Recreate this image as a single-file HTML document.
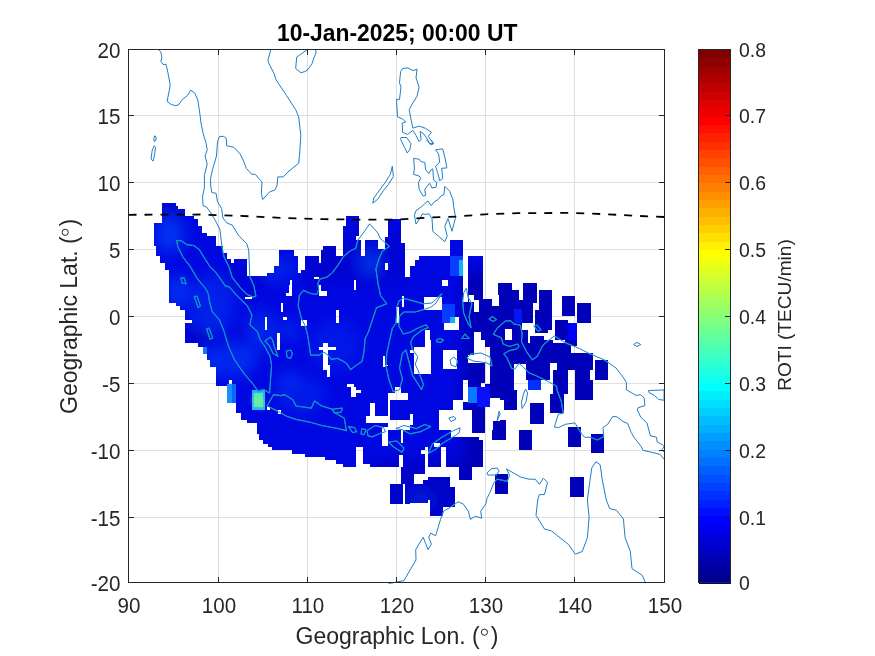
<!DOCTYPE html>
<html><head><meta charset="utf-8"><style>
html,body{margin:0;padding:0;width:875px;height:656px;overflow:hidden;background:#fff}
svg text{font-family:"Liberation Sans",sans-serif}
</style></head><body>
<svg width="875" height="656" viewBox="0 0 875 656" style="position:absolute;left:0;top:0">
<line x1="218.5" y1="49.5" x2="218.5" y2="582.5" stroke="#dfdfdf" stroke-width="1"/>
<line x1="307.5" y1="49.5" x2="307.5" y2="582.5" stroke="#dfdfdf" stroke-width="1"/>
<line x1="396.5" y1="49.5" x2="396.5" y2="582.5" stroke="#dfdfdf" stroke-width="1"/>
<line x1="485.5" y1="49.5" x2="485.5" y2="582.5" stroke="#dfdfdf" stroke-width="1"/>
<line x1="574.5" y1="49.5" x2="574.5" y2="582.5" stroke="#dfdfdf" stroke-width="1"/>
<line x1="128.5" y1="517.5" x2="664.5" y2="517.5" stroke="#dfdfdf" stroke-width="1"/>
<line x1="128.5" y1="450.5" x2="664.5" y2="450.5" stroke="#dfdfdf" stroke-width="1"/>
<line x1="128.5" y1="383.5" x2="664.5" y2="383.5" stroke="#dfdfdf" stroke-width="1"/>
<line x1="128.5" y1="316.5" x2="664.5" y2="316.5" stroke="#dfdfdf" stroke-width="1"/>
<line x1="128.5" y1="249.5" x2="664.5" y2="249.5" stroke="#dfdfdf" stroke-width="1"/>
<line x1="128.5" y1="182.5" x2="664.5" y2="182.5" stroke="#dfdfdf" stroke-width="1"/>
<line x1="128.5" y1="115.5" x2="664.5" y2="115.5" stroke="#dfdfdf" stroke-width="1"/>
<defs><clipPath id="cm"><path d="M0,0 H410 V455 H0 Z M0,455 H370 V656 H0 Z"/></clipPath><clipPath id="c0"><rect x="410.0" y="195.0" width="270.0" height="55.0"/></clipPath><clipPath id="c1"><rect x="410.0" y="250.0" width="90.0" height="90.0"/></clipPath><clipPath id="c2"><rect x="500.0" y="250.0" width="90.0" height="90.0"/></clipPath><clipPath id="c3"><rect x="410.0" y="340.0" width="90.0" height="90.0"/></clipPath><clipPath id="c4"><rect x="500.0" y="340.0" width="90.0" height="90.0"/></clipPath><clipPath id="c5"><rect x="590.0" y="250.0" width="90.0" height="120.0"/></clipPath><clipPath id="c6"><rect x="590.0" y="370.0" width="90.0" height="150.0"/></clipPath><clipPath id="c7"><rect x="410.0" y="430.0" width="90.0" height="90.0"/></clipPath><clipPath id="c8"><rect x="500.0" y="430.0" width="90.0" height="90.0"/></clipPath><clipPath id="c9"><rect x="370.0" y="455.0" width="40.0" height="65.0"/></clipPath><mask id="bm" maskUnits="userSpaceOnUse" x="0" y="0" width="875" height="656"><g shape-rendering="crispEdges"><g clip-path="url(#cm)">
<path d="M162.4,202.8 L175.5,202.8 L175.5,206.0 L177.9,206.0 L177.9,209.1 L184.8,209.1 L184.8,215.9 L193.7,215.9 L193.7,219.4 L197.8,219.4 L197.8,226.3 L202.3,226.3 L202.3,232.7 L206.7,232.7 L206.7,236.2 L216.1,236.2 L216.1,246.0 L222.5,246.0 L222.5,253.3 L227.3,253.3 L227.3,259.2 L230.7,259.2 L230.7,262.6 L233.5,262.6 L233.5,259.2 L247.2,259.2 L247.2,275.9 L267.0,275.9 L267.0,273.2 L274.3,273.2 L274.3,266.3 L278.7,266.3 L278.7,249.9 L293.8,249.9 L293.8,256.0 L297.9,256.0 L297.9,273.2 L300.9,273.2 L300.9,269.8 L305.1,269.8 L305.1,256.0 L318.5,256.0 L318.5,262.9 L321.0,262.9 L321.0,249.9 L323.3,249.9 L323.3,246.0 L336.1,246.0 L336.1,256.0 L343.2,256.0 L343.2,226.3 L345.7,226.3 L345.7,216.3 L358.7,216.3 L358.7,236.2 L356.2,236.2 L356.2,239.6 L361.0,239.6 L361.0,256.0 L365.1,256.0 L365.1,239.7 L378.3,239.7 L378.3,249.3 L385.2,249.3 L385.2,236.5 L387.9,236.5 L387.9,219.4 L400.8,219.4 L400.8,243.0 L405.2,243.0 L405.2,276.6 L409.7,276.6 L409.7,266.3 L414.5,266.3 L414.5,259.5 L419.0,259.5 L419.0,256.3 L448.1,256.3 L448.1,253.3 L450.2,253.3 L450.2,239.6 L463.2,239.6 L463.2,276.0 L468.0,276.0 L468.0,256.3 L481.0,256.3 L481.0,269.8 L483.1,269.8 L483.1,350.0 L410.0,350.0 L410.0,455.0 L380.0,455.0 L380.0,466.8 L376.6,466.8 L376.6,463.6 L362.9,463.6 L362.9,447.1 L356.0,447.1 L356.0,466.8 L343.0,466.8 L343.0,463.6 L336.1,463.6 L336.1,460.2 L325.2,460.2 L325.2,456.7 L305.3,456.7 L305.3,453.6 L292.2,453.6 L292.2,450.3 L271.7,450.3 L271.7,447.1 L267.5,447.1 L267.5,443.7 L262.7,443.7 L262.7,439.8 L258.6,439.8 L258.6,433.6 L256.5,433.6 L256.5,423.3 L246.9,423.3 L246.9,419.9 L240.8,419.9 L240.8,413.0 L236.0,413.0 L236.0,403.1 L227.3,403.1 L227.3,386.3 L216.1,386.3 L216.1,375.0 L216.1,366.6 L209.5,366.6 L209.5,359.8 L207.4,359.8 L207.4,353.6 L202.6,353.6 L202.6,346.7 L198.2,346.7 L198.2,343.3 L184.8,343.3 L184.8,309.7 L180.4,309.7 L180.4,306.3 L175.9,306.3 L175.9,302.8 L169.4,302.8 L169.4,285.0 L169.4,269.8 L164.9,269.8 L164.9,262.9 L160.1,262.9 L160.1,256.0 L156.0,256.0 L156.0,245.8 L153.5,245.8 L153.5,223.1 L162.4,223.1 L162.4,202.8 Z" fill="#fff"/>
<rect x="385.20" y="262.60" width="2.70" height="7.40" fill="#000"/>
<rect x="441.20" y="280.00" width="6.90" height="5.00" fill="#000"/>
<rect x="314.40" y="276.60" width="4.10" height="2.80" fill="#000"/>
<rect x="289.70" y="280.00" width="2.00" height="5.00" fill="#000"/>
<rect x="354.20" y="280.00" width="2.00" height="5.00" fill="#000"/>
<rect x="184.80" y="320.00" width="6.80" height="3.10" fill="#000"/>
<rect x="245.10" y="296.70" width="6.90" height="2.70" fill="#000"/>
<rect x="289.40" y="285.00" width="2.30" height="11.00" fill="#000"/>
<rect x="285.60" y="293.20" width="6.10" height="2.80" fill="#000"/>
<rect x="318.50" y="285.00" width="2.70" height="5.50" fill="#000"/>
<rect x="318.50" y="290.50" width="8.90" height="5.50" fill="#000"/>
<rect x="354.20" y="285.00" width="2.00" height="4.80" fill="#000"/>
<rect x="280.80" y="302.80" width="2.00" height="9.60" fill="#000"/>
<rect x="282.80" y="316.60" width="4.20" height="3.40" fill="#000"/>
<rect x="265.00" y="316.60" width="2.10" height="13.00" fill="#000"/>
<rect x="300.90" y="320.00" width="5.90" height="6.20" fill="#000"/>
<rect x="336.30" y="309.70" width="2.80" height="13.00" fill="#000"/>
<rect x="276.70" y="333.00" width="3.40" height="16.50" fill="#000"/>
<rect x="318.50" y="346.70" width="17.80" height="3.50" fill="#000"/>
<rect x="323.30" y="343.30" width="4.80" height="26.70" fill="#000"/>
<rect x="327.40" y="370.00" width="2.80" height="5.00" fill="#000"/>
<rect x="383.00" y="356.30" width="2.00" height="11.00" fill="#000"/>
<rect x="441.20" y="279.80" width="6.20" height="6.90" fill="#000"/>
<rect x="423.40" y="296.30" width="19.20" height="13.00" fill="#000"/>
<rect x="401.50" y="296.30" width="2.00" height="10.20" fill="#000"/>
<rect x="396.00" y="306.50" width="2.70" height="16.50" fill="#000"/>
<rect x="461.10" y="275.00" width="6.20" height="12.30" fill="#000"/>
<rect x="461.80" y="287.30" width="12.40" height="15.10" fill="#000"/>
<rect x="474.20" y="299.70" width="5.50" height="13.70" fill="#000"/>
<rect x="483.80" y="275.00" width="15.10" height="31.50" fill="#000"/>
<rect x="493.40" y="306.50" width="5.50" height="9.70" fill="#000"/>
<rect x="443.30" y="325.80" width="17.80" height="4.10" fill="#000"/>
<rect x="454.30" y="316.80" width="4.80" height="9.00" fill="#000"/>
<rect x="426.20" y="329.90" width="3.40" height="16.40" fill="#000"/>
<rect x="410.40" y="349.80" width="15.80" height="15.20" fill="#000"/>
<rect x="420.70" y="346.30" width="5.50" height="3.50" fill="#000"/>
<rect x="443.30" y="351.80" width="6.90" height="13.20" fill="#000"/>
<rect x="474.20" y="332.60" width="11.60" height="32.40" fill="#000"/>
<rect x="485.80" y="350.40" width="13.10" height="14.60" fill="#000"/>
<rect x="229.10" y="380.10" width="2.70" height="3.40" fill="#000"/>
<rect x="266.80" y="406.80" width="2.80" height="3.50" fill="#000"/>
<rect x="277.80" y="409.60" width="3.40" height="4.10" fill="#000"/>
<rect x="323.30" y="365.00" width="6.20" height="4.80" fill="#000"/>
<rect x="327.40" y="369.80" width="2.10" height="6.90" fill="#000"/>
<rect x="383.00" y="365.00" width="4.80" height="1.40" fill="#000"/>
<rect x="414.50" y="365.00" width="5.50" height="7.50" fill="#000"/>
<rect x="347.30" y="383.50" width="6.90" height="3.50" fill="#000"/>
<rect x="351.40" y="387.00" width="4.80" height="9.60" fill="#000"/>
<rect x="354.20" y="389.70" width="6.80" height="3.40" fill="#000"/>
<rect x="387.80" y="393.10" width="19.90" height="6.90" fill="#000"/>
<rect x="394.70" y="386.90" width="6.10" height="6.20" fill="#000"/>
<rect x="370.00" y="403.40" width="4.80" height="16.50" fill="#000"/>
<rect x="365.80" y="416.40" width="24.00" height="6.60" fill="#000"/>
<rect x="388.20" y="420.00" width="7.80" height="9.90" fill="#000"/>
<rect x="387.80" y="393.10" width="2.00" height="26.80" fill="#000"/>
<rect x="396.00" y="419.90" width="18.50" height="9.60" fill="#000"/>
<rect x="411.80" y="413.00" width="2.70" height="16.50" fill="#000"/>
<rect x="382.30" y="426.70" width="5.50" height="19.20" fill="#000"/>
<rect x="400.80" y="429.50" width="2.10" height="13.70" fill="#000"/>
<rect x="356.20" y="447.30" width="6.20" height="7.70" fill="#000"/>
</g>
<g clip-path="url(#c0)">
<rect x="410.00" y="195.00" width="270.00" height="55.00" fill="#000"/>
<rect x="450.20" y="239.60" width="13.00" height="10.40" fill="#fff"/>
</g>
<g clip-path="url(#c1)">
<rect x="410.00" y="250.00" width="90.00" height="90.00" fill="#fff"/>
<rect x="492.32" y="295.27" width="6.72" height="10.98" fill="#000"/>
<rect x="410.00" y="250.00" width="39.79" height="6.17" fill="#000"/>
<rect x="410.00" y="256.17" width="8.92" height="3.43" fill="#000"/>
<rect x="410.00" y="259.60" width="4.80" height="6.86" fill="#000"/>
<rect x="462.82" y="250.00" width="5.49" height="52.13" fill="#000"/>
<rect x="468.31" y="250.00" width="31.69" height="6.17" fill="#000"/>
<rect x="483.40" y="256.17" width="15.09" height="43.22" fill="#000"/>
<rect x="498.49" y="250.00" width="1.51" height="32.93" fill="#000"/>
<rect x="441.55" y="279.50" width="6.17" height="6.86" fill="#000"/>
<rect x="423.72" y="296.65" width="18.52" height="13.03" fill="#000"/>
<rect x="468.99" y="295.27" width="5.49" height="6.86" fill="#000"/>
<rect x="474.48" y="300.08" width="4.12" height="12.35" fill="#000"/>
<rect x="454.59" y="316.54" width="4.12" height="6.86" fill="#000"/>
<rect x="443.61" y="323.40" width="15.78" height="6.17" fill="#000"/>
<rect x="425.09" y="329.57" width="4.80" height="10.43" fill="#000"/>
<rect x="474.48" y="332.32" width="6.86" height="7.68" fill="#000"/>
<rect x="449.79" y="256.17" width="13.03" height="19.89" fill="#fff"/>
<rect x="441.55" y="303.51" width="13.72" height="19.21" fill="#fff"/>
<rect x="458.70" y="259.60" width="4.12" height="16.46" fill="#fff"/>
<rect x="449.79" y="316.54" width="4.80" height="6.17" fill="#fff"/>
</g>
<g clip-path="url(#c2)">
<rect x="500.00" y="250.00" width="90.00" height="90.00" fill="#000"/>
<rect x="500.00" y="282.93" width="12.35" height="57.07" fill="#fff"/>
<rect x="512.35" y="289.79" width="6.86" height="50.21" fill="#fff"/>
<rect x="519.21" y="300.08" width="13.72" height="22.64" fill="#fff"/>
<rect x="523.32" y="282.93" width="13.45" height="19.89" fill="#fff"/>
<rect x="512.35" y="322.71" width="9.60" height="17.29" fill="#fff"/>
<rect x="521.95" y="329.57" width="6.17" height="10.43" fill="#fff"/>
<rect x="539.10" y="289.79" width="13.31" height="20.58" fill="#fff"/>
<rect x="534.98" y="310.37" width="17.42" height="19.21" fill="#fff"/>
<rect x="534.98" y="329.57" width="13.03" height="3.43" fill="#fff"/>
<rect x="561.74" y="296.37" width="13.03" height="19.89" fill="#fff"/>
<rect x="577.10" y="303.09" width="12.90" height="19.62" fill="#fff"/>
<rect x="554.88" y="319.97" width="13.03" height="20.03" fill="#fff"/>
<rect x="530.18" y="336.43" width="13.72" height="3.57" fill="#fff"/>
<rect x="567.91" y="322.71" width="8.92" height="17.29" fill="#fff"/>
<rect x="513.72" y="308.99" width="8.23" height="13.72" fill="#fff"/>
<rect x="505.35" y="329.44" width="6.17" height="10.29" fill="#000"/>
</g>
<g clip-path="url(#c3)">
<rect x="410.00" y="340.00" width="90.00" height="90.00" fill="#fff"/>
<rect x="414.12" y="346.86" width="16.46" height="26.75" fill="#000"/>
<rect x="410.00" y="349.60" width="4.12" height="3.43" fill="#000"/>
<rect x="425.09" y="340.00" width="5.49" height="6.86" fill="#000"/>
<rect x="442.93" y="349.60" width="14.41" height="19.89" fill="#000"/>
<rect x="474.48" y="340.00" width="10.98" height="15.09" fill="#000"/>
<rect x="467.62" y="355.09" width="17.84" height="7.55" fill="#000"/>
<rect x="485.46" y="346.86" width="4.12" height="37.04" fill="#000"/>
<rect x="462.82" y="380.47" width="4.80" height="21.27" fill="#000"/>
<rect x="480.66" y="383.22" width="4.80" height="3.43" fill="#000"/>
<rect x="488.89" y="397.62" width="11.11" height="23.32" fill="#000"/>
<rect x="488.89" y="420.95" width="4.12" height="9.05" fill="#000"/>
<rect x="438.81" y="409.97" width="33.61" height="20.03" fill="#000"/>
<rect x="452.53" y="400.37" width="10.29" height="9.60" fill="#000"/>
<rect x="485.46" y="406.54" width="3.43" height="23.46" fill="#000"/>
<rect x="410.00" y="414.09" width="2.74" height="10.98" fill="#000"/>
<rect x="472.42" y="413.40" width="13.03" height="16.60" fill="#fff"/>
<rect x="493.00" y="420.95" width="7.00" height="9.05" fill="#fff"/>
<rect x="468.31" y="386.65" width="8.92" height="16.46" fill="#fff"/>
<rect x="477.23" y="386.65" width="12.35" height="19.89" fill="#fff"/>
</g>
<g clip-path="url(#c4)">
<rect x="500.00" y="340.00" width="90.00" height="90.00" fill="#000"/>
<rect x="500.00" y="340.00" width="90.00" height="20.00" fill="#fff"/>
<rect x="500.00" y="360.00" width="14.40" height="40.00" fill="#fff"/>
<rect x="503.70" y="389.90" width="13.20" height="20.10" fill="#fff"/>
<rect x="500.00" y="419.80" width="5.90" height="10.20" fill="#fff"/>
<rect x="526.20" y="360.00" width="24.00" height="19.80" fill="#fff"/>
<rect x="514.40" y="360.00" width="11.80" height="3.70" fill="#fff"/>
<rect x="528.00" y="379.80" width="13.10" height="10.10" fill="#fff"/>
<rect x="530.20" y="403.20" width="13.60" height="20.30" fill="#fff"/>
<rect x="550.20" y="393.60" width="13.90" height="19.80" fill="#fff"/>
<rect x="552.80" y="370.10" width="15.50" height="23.50" fill="#fff"/>
<rect x="550.20" y="360.00" width="39.80" height="3.20" fill="#fff"/>
<rect x="556.60" y="363.20" width="33.40" height="6.90" fill="#fff"/>
<rect x="574.70" y="360.00" width="15.30" height="40.00" fill="#fff"/>
<rect x="568.30" y="426.70" width="12.80" height="3.30" fill="#fff"/>
<rect x="528.10" y="340.00" width="2.10" height="2.70" fill="#000"/>
<rect x="552.80" y="340.00" width="11.70" height="2.70" fill="#000"/>
<rect x="576.80" y="340.00" width="13.20" height="13.00" fill="#000"/>
<rect x="571.30" y="346.20" width="5.50" height="6.80" fill="#000"/>
<rect x="528.00" y="379.80" width="13.10" height="10.10" fill="#fff"/>
</g>
<g clip-path="url(#c5)">
<rect x="590.00" y="250.00" width="90.00" height="120.00" fill="#000"/>
<rect x="590.00" y="303.30" width="1.10" height="19.20" fill="#fff"/>
<rect x="590.00" y="353.40" width="2.70" height="16.60" fill="#fff"/>
<rect x="594.80" y="360.20" width="13.00" height="9.80" fill="#fff"/>
</g>
<g clip-path="url(#c6)">
<rect x="590.00" y="370.00" width="90.00" height="150.00" fill="#000"/>
<rect x="594.80" y="370.00" width="13.00" height="9.60" fill="#fff"/>
<rect x="590.00" y="380.30" width="2.70" height="19.20" fill="#fff"/>
<rect x="590.70" y="433.80" width="13.00" height="19.20" fill="#fff"/>
</g>
<g clip-path="url(#c7)">
<rect x="410.00" y="430.00" width="90.00" height="90.00" fill="#000"/>
<rect x="410.00" y="430.00" width="15.10" height="43.90" fill="#fff"/>
<rect x="425.10" y="430.00" width="26.10" height="17.10" fill="#fff"/>
<rect x="427.80" y="447.10" width="13.10" height="19.90" fill="#fff"/>
<rect x="445.70" y="440.30" width="37.70" height="26.70" fill="#fff"/>
<rect x="451.20" y="436.90" width="28.10" height="3.40" fill="#fff"/>
<rect x="440.90" y="434.10" width="10.30" height="13.00" fill="#fff"/>
<rect x="458.70" y="459.50" width="13.00" height="20.60" fill="#fff"/>
<rect x="410.00" y="483.50" width="17.80" height="19.90" fill="#fff"/>
<rect x="423.00" y="480.10" width="26.80" height="19.90" fill="#fff"/>
<rect x="427.80" y="476.60" width="22.00" height="3.50" fill="#fff"/>
<rect x="429.90" y="500.00" width="13.00" height="16.40" fill="#fff"/>
<rect x="442.90" y="486.90" width="11.70" height="19.90" fill="#fff"/>
<rect x="495.00" y="473.90" width="5.00" height="19.90" fill="#fff"/>
<rect x="472.40" y="430.00" width="13.00" height="3.40" fill="#fff"/>
<rect x="492.30" y="430.00" width="7.70" height="9.60" fill="#fff"/>
<rect x="410.00" y="473.90" width="4.10" height="9.60" fill="#fff"/>
<rect x="434.00" y="443.00" width="5.50" height="4.10" fill="#000"/>
<rect x="421.00" y="449.90" width="6.80" height="4.10" fill="#000"/>
</g>
<g clip-path="url(#c8)">
<rect x="500.00" y="430.00" width="90.00" height="90.00" fill="#000"/>
<rect x="500.00" y="430.00" width="5.50" height="9.60" fill="#fff"/>
<rect x="519.20" y="430.00" width="13.00" height="19.90" fill="#fff"/>
<rect x="568.20" y="430.00" width="13.10" height="16.70" fill="#fff"/>
<rect x="500.00" y="473.90" width="8.00" height="19.90" fill="#fff"/>
<rect x="570.20" y="477.00" width="13.50" height="19.90" fill="#fff"/>
</g>
<g clip-path="url(#c9)">
<rect x="370.00" y="455.00" width="40.00" height="65.00" fill="#000"/>
<rect x="370.00" y="455.00" width="28.80" height="11.60" fill="#fff"/>
<rect x="402.90" y="455.00" width="7.10" height="18.50" fill="#fff"/>
<rect x="400.90" y="466.60" width="9.10" height="17.20" fill="#fff"/>
<rect x="389.90" y="483.70" width="13.00" height="19.90" fill="#fff"/>
<rect x="405.40" y="483.70" width="4.60" height="19.90" fill="#fff"/>
<rect x="401.30" y="470.00" width="8.70" height="13.70" fill="#fff"/>
</g></g></mask></defs><g mask="url(#bm)" shape-rendering="crispEdges"><rect x="120" y="180" width="520" height="360" fill="#0008e2"/><defs><filter id="bl" x="-50%" y="-50%" width="200%" height="200%"><feGaussianBlur stdDeviation="7"/></filter><filter id="bl2" x="-50%" y="-50%" width="200%" height="200%"><feGaussianBlur stdDeviation="3"/></filter></defs>
<g filter="url(#bl)" shape-rendering="auto">
<rect x="462" y="270" width="210" height="260" fill="#0000b0" opacity="0.85"/>
<rect x="375" y="460" width="90" height="70" fill="#0000b8" opacity="0.6"/>
<rect x="300" y="225" width="110" height="60" fill="#0000c0" opacity="0.35"/>
<rect x="161" y="203" width="22" height="13" fill="#0000c0" opacity="0.6"/>
<rect x="228" y="262" width="40" height="30" fill="#0000c0" opacity="0.35"/>
<rect x="320" y="244" width="22" height="33" fill="#0000c0" opacity="0.5"/>
<rect x="186" y="326" width="28" height="22" fill="#0000b8" opacity="0.55"/>
<ellipse cx="211" cy="362" rx="11" ry="12" fill="#0058ff" opacity="0.35"/>
<ellipse cx="290" cy="330" rx="9" ry="11" fill="#0058ff" opacity="0.35"/>
<ellipse cx="246" cy="358" rx="13" ry="12" fill="#0058ff" opacity="0.3"/>
<ellipse cx="288" cy="380" rx="11" ry="10" fill="#0058ff" opacity="0.3"/>
<ellipse cx="170" cy="235" rx="14" ry="18" fill="#0058ff" opacity="0.55"/>
<ellipse cx="178" cy="292" rx="12" ry="16" fill="#0058ff" opacity="0.5"/>
<ellipse cx="212" cy="305" rx="22" ry="30" fill="#0058ff" opacity="0.3"/>
<ellipse cx="262" cy="330" rx="15" ry="20" fill="#0058ff" opacity="0.35"/>
<ellipse cx="232" cy="360" rx="20" ry="20" fill="#0058ff" opacity="0.3"/>
<ellipse cx="300" cy="395" rx="25" ry="18" fill="#0058ff" opacity="0.25"/>
<ellipse cx="370" cy="262" rx="9" ry="12" fill="#0068ff" opacity="0.5"/>
<ellipse cx="335" cy="345" rx="25" ry="25" fill="#0058ff" opacity="0.2"/>
<ellipse cx="280" cy="270" rx="15" ry="12" fill="#0058ff" opacity="0.3"/>
<ellipse cx="420" cy="500" rx="12" ry="10" fill="#0040ff" opacity="0.4"/>
</g>
<g shape-rendering="crispEdges">
<rect x="227.3" y="383.5" width="8.7" height="19.6" fill="#0a68ff"/><rect x="227.3" y="383.5" width="4.2" height="19.6" fill="#1a90ff"/><rect x="202" y="347" width="5" height="6.5" fill="#1a70ff"/>
<rect x="251.7" y="390.4" width="13.7" height="19.2" fill="#20b4ff"/>
<rect x="253.9" y="392.8" width="9" height="14.4" fill="#50e8b8"/>
</g>
<g filter="url(#bl2)" shape-rendering="auto">
<circle cx="256" cy="400" r="2.5" fill="#b0f060"/><circle cx="261" cy="404" r="2.5" fill="#b0f060"/>
</g>
<rect x="459" y="259.5" width="4" height="16.5" fill="#20c0ff"/>
<rect x="449.79" y="256.17" width="13.03" height="19.89" fill="#0a3cff"/>
<rect x="441.55" y="303.51" width="13.72" height="19.21" fill="#0a3cff"/>
<rect x="458.70" y="259.60" width="4.12" height="16.46" fill="#10b0ff"/>
<rect x="449.79" y="316.54" width="4.80" height="6.17" fill="#10b0ff"/>
<rect x="567.91" y="322.71" width="8.92" height="17.29" fill="#0000ff"/>
<rect x="513.72" y="308.99" width="8.23" height="13.72" fill="#0418f0"/>
<rect x="468.31" y="386.65" width="8.92" height="16.46" fill="#0a78ff"/>
<rect x="477.23" y="386.65" width="12.35" height="19.89" fill="#0810ff"/>
<rect x="528.00" y="379.80" width="13.10" height="10.10" fill="#0030ff"/></g>
<path d="M308.0,49.0 L296.7,57.2 L295.7,68.5 L300.8,72.7 L304.9,71.6 L308.0,69.6 M154.7,135.8 L156.2,137.0 L155.8,140.5 L154.3,141.6 L153.9,138.5 Z M154.3,145.7 L155.6,147.3 L154.7,153.9 L153.1,161.1 L151.0,159.1 L152.3,149.8 Z M308.0,69.6 L312.1,63.4 L314.2,57.2 L316.2,52.1 L315.2,49.0 M402.6,68.5 L407.8,67.9 L412.9,70.6 L417.0,69.2 L416.0,77.8 L419.1,87.1 L417.0,96.3 L411.9,104.5 L409.2,109.7 L410.9,118.9 L412.9,128.2 L419.1,126.1 L425.3,128.2 L431.4,132.3 L428.3,136.4 L433.5,143.6 L430.4,144.7 L426.3,137.5 L423.2,133.3 L420.1,131.3 L421.1,139.5 L419.1,141.6 L416.0,135.4 L412.9,130.3 L407.8,134.4 L402.6,132.3 L402.2,123.1 L405.7,122.0 L402.6,118.9 L397.5,116.9 L396.5,99.4 L399.5,99.4 L401.0,87.1 L399.5,82.9 L400.6,71.6 Z M401.0,137.5 L406.7,137.5 L410.9,143.6 L409.8,149.8 L407.2,152.9 L404.7,147.7 L400.6,139.5 Z M435.5,149.8 L442.7,148.8 L444.8,157.0 L446.9,167.9 L441.7,168.3 L442.7,178.6 L439.7,180.7 L437.6,172.4 L435.5,166.3 L439.7,162.1 L438.6,153.9 Z M392.3,166.2 L393.4,176.5 L388.2,184.7 L383.1,190.9 L377.9,199.1 L372.8,203.2 L373.8,198.1 L379.0,190.9 L385.1,182.6 L390.3,174.4 Z M426.4,140.0 L429.6,143.2 L433.6,144.0 L431.2,140.0 M413.6,158.4 L419.2,159.2 L420.8,161.6 L424.8,162.4 L425.6,169.6 L428.8,173.6 L431.2,169.6 L432.8,168.8 L433.6,180.0 L436.8,182.4 L436.0,187.2 L432.0,188.0 L429.6,183.2 L426.4,187.2 L424.8,189.6 L425.6,195.3 L423.2,196.1 L419.2,189.6 L418.4,182.4 L420.8,178.4 L419.2,176.0 L413.6,174.4 L414.4,168.0 Z M444.8,186.4 L449.6,191.2 L452.9,199.3 L453.7,207.3 L455.3,215.3 L455.3,218.5 L452.0,231.3 L448.0,218.5 L444.8,226.5 L447.2,236.1 L444.8,241.7 L438.4,236.1 L432.8,231.3 L432.0,218.5 L428.8,213.7 L425.6,214.5 L422.4,213.7 L420.8,216.9 L416.0,224.1 L414.4,215.3 L416.0,210.5 L420.8,207.3 L428.0,200.9 L431.2,205.7 L434.4,201.7 L438.4,199.3 L440.8,196.1 L444.0,194.5 Z M388.6,583.5 L390.3,583.3 L404.0,580.6 L410.9,568.6 L416.0,560.0 L415.7,549.6 L423.2,537.2 L428.0,549.6 L431.4,544.1 L428.7,537.2 L430.8,533.1 L435.6,535.8 L440.6,519.3 L443.7,511.1 L450.9,507.0 L458.1,501.8 L463.2,503.9 L468.3,511.1 L470.4,519.3 L475.5,516.2 L481.7,518.3 L480.7,511.1 L485.8,503.9 L486.9,498.7 L489.9,492.6 L494.1,482.3 L497.1,479.2 L507.4,481.3 L509.5,475.1 L506.4,468.9 L513.6,473.0 L520.8,477.1 L529.0,479.2 L535.2,479.2 L539.3,484.3 L543.4,478.2 L547.5,482.3 L544.5,494.6 L539.3,494.6 L537.7,500.0 L536.0,515.4 L544.6,529.1 L551.4,530.9 L568.6,544.6 L575.4,554.2 L582.3,551.4 L587.4,537.7 L589.1,517.1 L587.4,500.0 L589.7,482.3 L591.8,467.9 L595.9,461.7 L600.2,464.8 L602.3,480.0 L606.3,500.0 L609.7,508.6 L616.5,510.3 L623.4,518.9 L625.1,537.7 L630.3,551.4 L632.0,568.6 L642.3,575.4 L645.7,583.3 M486.9,473.0 L491.0,468.9 L497.1,467.9 L499.2,471.0 L496.1,475.1 L487.9,475.1 Z M460.1,427.8 L452.9,430.9 L440.6,438.1 L432.3,444.2 L428.2,453.5 L435.4,449.4 L442.6,443.2 L452.9,437.0 L459.1,432.9 Z M448.8,418.0 L454.0,416.5 L456.0,419.0 L451.0,421.6 Z M497.1,420.6 L499.0,411.3 L500.2,414.0 Z M525.6,389.0 L527.6,393.0 L526.0,402.0 L522.0,408.5 L521.5,402.0 L523.5,394.0 Z M369.7,223.8 L377.9,233.0 L380.0,238.2 L389.3,246.4 L382.1,251.5 L379.0,258.7 L375.9,269.0 L378.0,283.4 L380.5,295.5 L386.7,303.8 L376.4,307.9 L372.3,320.2 L368.2,332.6 L365.1,338.7 L364.1,351.1 L362.0,361.4 L355.8,365.5 L350.7,369.6 L346.6,363.4 L343.5,361.4 L337.3,358.3 L331.1,359.3 L328.1,355.2 L323.9,352.1 L318.8,355.2 L310.6,355.2 L309.5,347.0 L307.5,334.6 L305.4,326.4 L301.3,318.2 L298.2,305.8 L299.3,295.5 L303.4,290.4 L310.6,293.5 L316.7,294.5 L318.8,289.4 L317.8,283.2 L319.8,279.1 L327.0,277.0 L332.2,272.9 L338.3,264.7 L343.5,256.5 L349.7,251.3 L355.8,248.2 L357.9,240.0 L362.5,234.1 Z M267.2,406.0 L273.4,394.7 L280.6,395.7 L284.7,394.7 L292.9,399.8 L296.0,406.0 L311.4,408.1 L314.5,400.9 L321.7,406.0 L332.0,409.1 L334.1,412.2 L344.3,418.3 L346.4,430.7 L338.2,428.6 L321.7,425.5 L311.4,422.5 L296.0,419.4 L286.7,416.3 L277.5,411.1 Z M333.0,409.1 L342.3,408.1 L341.3,412.2 L334.1,412.8 Z M348.5,426.6 L354.6,427.6 L356.7,431.7 L352.6,432.7 Z M361.8,428.6 L365.9,429.6 L364.0,434.8 L361.0,434.0 Z M367.0,430.7 L375.2,425.5 L383.4,427.6 L385.5,431.7 L379.3,433.8 L372.1,436.9 L368.0,435.8 Z M395.8,428.6 L404.0,425.5 L416.3,428.6 L424.6,424.5 L430.7,426.6 L420.5,431.7 L410.2,433.8 L402.0,429.6 Z M388.6,442.0 L396.8,441.0 L404.0,448.2 L402.0,452.3 L393.7,447.1 Z M265.0,341.0 L270.5,337.1 L272.5,339.9 L275.3,349.5 L278.0,356.3 L273.2,353.6 L269.1,345.4 Z M286.3,351.0 L291.0,350.2 L292.4,354.0 L290.5,358.4 L287.0,357.0 Z M157.8,49.0 L160.9,52.1 L161.9,57.2 L160.9,61.3 L163.0,64.4 L166.1,64.4 L168.1,73.7 L170.2,85.0 L169.1,91.2 L167.1,101.5 L171.2,104.5 L175.3,105.6 L178.4,105.0 L182.5,99.4 L187.7,95.3 L190.7,90.1 L194.9,93.2 L197.9,100.4 L200.0,114.8 L201.0,123.1 L203.1,133.3 L206.2,143.6 L207.2,149.8 L205.1,156.0 L207.2,164.2 L204.4,175.5 L204.4,187.8 L202.6,196.1 L203.0,205.7 L206.5,207.0 L210.6,212.5 L214.7,219.4 L219.9,229.3 L222.0,246.7 L224.1,257.0 L229.2,267.3 L232.3,277.6 L240.5,287.9 L246.7,294.1 L252.9,297.1 L255.9,296.1 L253.9,285.8 L249.8,276.6 L248.7,249.8 L246.7,243.7 L238.5,235.4 L232.3,225.1 L227.1,223.1 L222.9,218.0 L221.6,208.4 L217.4,201.6 L216.1,193.3 L211.9,192.6 L210.6,185.1 L210.6,178.2 L212.3,170.4 L216.5,156.0 L217.5,141.6 L219.5,136.4 L223.7,136.4 L226.3,138.5 L226.7,145.7 L233.9,147.3 L240.1,153.9 L243.2,160.1 L246.3,168.3 L251.4,174.1 L255.5,174.5 L259.7,179.6 L262.0,181.7 L261.3,193.3 L262.7,199.5 L269.6,191.9 L275.0,189.9 L277.1,185.1 L277.8,176.9 L283.3,176.9 L290.1,170.0 L288.5,171.4 L298.7,163.2 L299.8,151.9 L300.8,135.4 L298.7,116.9 L295.7,109.7 L286.4,95.3 L276.1,79.9 L274.1,73.7 L268.9,63.4 L267.9,60.3 L271.0,49.0 M176.7,240.6 L180.9,240.6 L187.0,244.7 L194.2,245.7 L199.4,249.8 L204.5,258.1 L209.7,266.3 L215.8,272.5 L221.0,279.7 L225.1,285.8 L229.2,286.9 L236.4,295.1 L242.6,301.3 L247.2,305.6 L249.3,309.7 L252.0,315.2 L249.9,324.8 L257.5,331.6 L260.2,339.9 L265.0,346.7 L270.0,356.0 L271.6,365.0 L270.5,380.0 L269.6,393.1 L264.1,389.7 L257.9,391.1 L253.1,384.2 L244.9,374.6 L238.0,365.0 L234.2,359.1 L228.7,346.7 L223.2,328.9 L219.1,319.3 L212.2,311.7 L209.5,301.5 L208.1,293.2 L205.4,288.4 L197.3,278.6 L190.1,266.3 L182.9,257.0 L177.8,246.7 Z M180.9,278.0 L184.0,277.6 L186.0,283.8 L182.0,283.0 Z M194.2,296.5 L197.0,296.1 L200.4,306.0 L198.0,307.4 Z M206.6,329.0 L209.0,328.0 L212.7,338.0 L210.0,339.3 Z M664.1,459.2 L660.0,454.4 L651.7,452.3 L642.8,450.3 L641.4,446.8 L633.9,437.2 L631.2,432.4 L627.7,423.5 L622.9,421.4 L616.7,416.6 L612.6,416.6 L607.8,424.2 L603.0,427.6 L603.7,436.5 L597.5,440.0 L590.0,437.2 L584.5,437.3 L581.7,433.9 L574.9,422.9 L565.3,424.3 L558.4,427.7 L554.3,427.0 L558.4,414.0 L563.2,413.3 L561.2,401.0 L557.0,390.0 L556.6,386.3 L548.6,381.7 L545.0,380.0 L537.3,376.3 L528.8,372.7 L522.7,366.6 L519.0,363.5 L514.8,369.0 L511.7,368.4 L506.8,357.4 L503.8,353.8 L509.3,350.7 L516.6,348.9 L519.0,346.5 L517.8,344.0 L509.3,346.5 L503.2,344.0 L501.3,337.9 L493.4,334.3 L497.1,328.2 L505.6,320.9 L511.1,320.9 L513.5,323.9 L520.2,325.1 L522.1,333.0 L521.5,341.6 L526.3,351.3 L532.4,359.9 L537.3,356.2 L542.2,346.5 L545.2,342.9 L554.3,336.0 L565.7,342.9 L579.5,348.6 L588.6,353.2 L604.6,360.0 L616.0,368.0 L622.9,376.9 L626.4,382.3 L626.4,389.9 L631.2,392.6 L636.0,395.4 L640.8,394.7 L644.2,398.1 L644.9,405.7 L638.0,407.7 L637.3,409.8 L640.8,417.3 L646.9,422.8 L650.4,435.8 L656.5,437.2 L657.2,442.0 L662.7,444.8 L664.1,446.8 L662.0,449.6 L664.1,452.3 M648.3,390.6 L664.1,389.9 L664.1,400.2 L658.6,399.5 L654.5,395.4 L649.0,392.6 Z M489.1,319.0 L492.5,316.6 L496.5,319.5 L493.0,321.5 Z M533.7,326.0 L537.0,325.1 L541.0,330.0 L538.0,331.2 Z M633.6,344.5 L637.0,342.4 L640.8,344.5 L637.0,346.5 Z M441.7,293.7 L432.0,303.0 L423.4,303.8 L410.6,300.1 L403.3,298.3 L399.0,301.0 L396.9,307.4 L396.0,323.0 L392.3,328.5 L389.6,340.4 L386.8,353.2 L386.0,366.0 L389.0,380.0 L393.2,391.6 L399.6,389.7 L402.4,378.8 L399.5,368.0 L402.4,353.2 L406.0,350.0 L409.0,362.0 L412.4,375.1 L417.0,382.4 L421.6,389.7 L423.4,384.3 L417.9,370.0 L415.2,364.1 L417.9,356.8 L412.4,349.5 L410.6,342.2 L413.4,336.7 L421.6,330.3 L428.0,327.6 L426.2,324.8 L417.0,328.5 L410.6,332.1 L403.3,334.0 L398.7,325.7 L399.6,316.0 L404.0,312.0 L415.0,312.0 L424.3,309.3 L430.7,307.4 L436.2,302.9 Z M466.4,288.2 L468.2,297.4 L471.9,303.8 L471.0,307.4 L469.1,316.6 L471.0,327.6 L468.2,323.9 L463.7,312.9 L462.7,302.0 L463.7,292.8 Z M436.2,340.0 L440.0,338.5 L443.5,340.0 L441.0,342.2 L437.0,342.0 Z M461.8,338.5 L465.0,334.0 L469.1,338.5 Z M450.0,360.0 L454.0,356.8 L457.3,361.0 L456.0,366.9 L451.0,365.0 Z M467.0,358.0 L471.0,354.0 L481.0,353.0 L490.0,357.0 L492.0,366.0 L487.0,363.0 L481.0,362.0 L473.0,361.0 Z" fill="none" stroke="#1f7dc4" stroke-width="1" stroke-linejoin="round"/><path d="M308.0,49.0 L296.7,57.2 L295.7,68.5 L300.8,72.7 L304.9,71.6 L308.0,69.6 M154.7,135.8 L156.2,137.0 L155.8,140.5 L154.3,141.6 L153.9,138.5 Z M154.3,145.7 L155.6,147.3 L154.7,153.9 L153.1,161.1 L151.0,159.1 L152.3,149.8 Z M308.0,69.6 L312.1,63.4 L314.2,57.2 L316.2,52.1 L315.2,49.0 M402.6,68.5 L407.8,67.9 L412.9,70.6 L417.0,69.2 L416.0,77.8 L419.1,87.1 L417.0,96.3 L411.9,104.5 L409.2,109.7 L410.9,118.9 L412.9,128.2 L419.1,126.1 L425.3,128.2 L431.4,132.3 L428.3,136.4 L433.5,143.6 L430.4,144.7 L426.3,137.5 L423.2,133.3 L420.1,131.3 L421.1,139.5 L419.1,141.6 L416.0,135.4 L412.9,130.3 L407.8,134.4 L402.6,132.3 L402.2,123.1 L405.7,122.0 L402.6,118.9 L397.5,116.9 L396.5,99.4 L399.5,99.4 L401.0,87.1 L399.5,82.9 L400.6,71.6 Z M401.0,137.5 L406.7,137.5 L410.9,143.6 L409.8,149.8 L407.2,152.9 L404.7,147.7 L400.6,139.5 Z M435.5,149.8 L442.7,148.8 L444.8,157.0 L446.9,167.9 L441.7,168.3 L442.7,178.6 L439.7,180.7 L437.6,172.4 L435.5,166.3 L439.7,162.1 L438.6,153.9 Z M392.3,166.2 L393.4,176.5 L388.2,184.7 L383.1,190.9 L377.9,199.1 L372.8,203.2 L373.8,198.1 L379.0,190.9 L385.1,182.6 L390.3,174.4 Z M426.4,140.0 L429.6,143.2 L433.6,144.0 L431.2,140.0 M413.6,158.4 L419.2,159.2 L420.8,161.6 L424.8,162.4 L425.6,169.6 L428.8,173.6 L431.2,169.6 L432.8,168.8 L433.6,180.0 L436.8,182.4 L436.0,187.2 L432.0,188.0 L429.6,183.2 L426.4,187.2 L424.8,189.6 L425.6,195.3 L423.2,196.1 L419.2,189.6 L418.4,182.4 L420.8,178.4 L419.2,176.0 L413.6,174.4 L414.4,168.0 Z M444.8,186.4 L449.6,191.2 L452.9,199.3 L453.7,207.3 L455.3,215.3 L455.3,218.5 L452.0,231.3 L448.0,218.5 L444.8,226.5 L447.2,236.1 L444.8,241.7 L438.4,236.1 L432.8,231.3 L432.0,218.5 L428.8,213.7 L425.6,214.5 L422.4,213.7 L420.8,216.9 L416.0,224.1 L414.4,215.3 L416.0,210.5 L420.8,207.3 L428.0,200.9 L431.2,205.7 L434.4,201.7 L438.4,199.3 L440.8,196.1 L444.0,194.5 Z M388.6,583.5 L390.3,583.3 L404.0,580.6 L410.9,568.6 L416.0,560.0 L415.7,549.6 L423.2,537.2 L428.0,549.6 L431.4,544.1 L428.7,537.2 L430.8,533.1 L435.6,535.8 L440.6,519.3 L443.7,511.1 L450.9,507.0 L458.1,501.8 L463.2,503.9 L468.3,511.1 L470.4,519.3 L475.5,516.2 L481.7,518.3 L480.7,511.1 L485.8,503.9 L486.9,498.7 L489.9,492.6 L494.1,482.3 L497.1,479.2 L507.4,481.3 L509.5,475.1 L506.4,468.9 L513.6,473.0 L520.8,477.1 L529.0,479.2 L535.2,479.2 L539.3,484.3 L543.4,478.2 L547.5,482.3 L544.5,494.6 L539.3,494.6 L537.7,500.0 L536.0,515.4 L544.6,529.1 L551.4,530.9 L568.6,544.6 L575.4,554.2 L582.3,551.4 L587.4,537.7 L589.1,517.1 L587.4,500.0 L589.7,482.3 L591.8,467.9 L595.9,461.7 L600.2,464.8 L602.3,480.0 L606.3,500.0 L609.7,508.6 L616.5,510.3 L623.4,518.9 L625.1,537.7 L630.3,551.4 L632.0,568.6 L642.3,575.4 L645.7,583.3 M486.9,473.0 L491.0,468.9 L497.1,467.9 L499.2,471.0 L496.1,475.1 L487.9,475.1 Z M460.1,427.8 L452.9,430.9 L440.6,438.1 L432.3,444.2 L428.2,453.5 L435.4,449.4 L442.6,443.2 L452.9,437.0 L459.1,432.9 Z M448.8,418.0 L454.0,416.5 L456.0,419.0 L451.0,421.6 Z M497.1,420.6 L499.0,411.3 L500.2,414.0 Z M525.6,389.0 L527.6,393.0 L526.0,402.0 L522.0,408.5 L521.5,402.0 L523.5,394.0 Z M369.7,223.8 L377.9,233.0 L380.0,238.2 L389.3,246.4 L382.1,251.5 L379.0,258.7 L375.9,269.0 L378.0,283.4 L380.5,295.5 L386.7,303.8 L376.4,307.9 L372.3,320.2 L368.2,332.6 L365.1,338.7 L364.1,351.1 L362.0,361.4 L355.8,365.5 L350.7,369.6 L346.6,363.4 L343.5,361.4 L337.3,358.3 L331.1,359.3 L328.1,355.2 L323.9,352.1 L318.8,355.2 L310.6,355.2 L309.5,347.0 L307.5,334.6 L305.4,326.4 L301.3,318.2 L298.2,305.8 L299.3,295.5 L303.4,290.4 L310.6,293.5 L316.7,294.5 L318.8,289.4 L317.8,283.2 L319.8,279.1 L327.0,277.0 L332.2,272.9 L338.3,264.7 L343.5,256.5 L349.7,251.3 L355.8,248.2 L357.9,240.0 L362.5,234.1 Z M267.2,406.0 L273.4,394.7 L280.6,395.7 L284.7,394.7 L292.9,399.8 L296.0,406.0 L311.4,408.1 L314.5,400.9 L321.7,406.0 L332.0,409.1 L334.1,412.2 L344.3,418.3 L346.4,430.7 L338.2,428.6 L321.7,425.5 L311.4,422.5 L296.0,419.4 L286.7,416.3 L277.5,411.1 Z M333.0,409.1 L342.3,408.1 L341.3,412.2 L334.1,412.8 Z M348.5,426.6 L354.6,427.6 L356.7,431.7 L352.6,432.7 Z M361.8,428.6 L365.9,429.6 L364.0,434.8 L361.0,434.0 Z M367.0,430.7 L375.2,425.5 L383.4,427.6 L385.5,431.7 L379.3,433.8 L372.1,436.9 L368.0,435.8 Z M395.8,428.6 L404.0,425.5 L416.3,428.6 L424.6,424.5 L430.7,426.6 L420.5,431.7 L410.2,433.8 L402.0,429.6 Z M388.6,442.0 L396.8,441.0 L404.0,448.2 L402.0,452.3 L393.7,447.1 Z M265.0,341.0 L270.5,337.1 L272.5,339.9 L275.3,349.5 L278.0,356.3 L273.2,353.6 L269.1,345.4 Z M286.3,351.0 L291.0,350.2 L292.4,354.0 L290.5,358.4 L287.0,357.0 Z M157.8,49.0 L160.9,52.1 L161.9,57.2 L160.9,61.3 L163.0,64.4 L166.1,64.4 L168.1,73.7 L170.2,85.0 L169.1,91.2 L167.1,101.5 L171.2,104.5 L175.3,105.6 L178.4,105.0 L182.5,99.4 L187.7,95.3 L190.7,90.1 L194.9,93.2 L197.9,100.4 L200.0,114.8 L201.0,123.1 L203.1,133.3 L206.2,143.6 L207.2,149.8 L205.1,156.0 L207.2,164.2 L204.4,175.5 L204.4,187.8 L202.6,196.1 L203.0,205.7 L206.5,207.0 L210.6,212.5 L214.7,219.4 L219.9,229.3 L222.0,246.7 L224.1,257.0 L229.2,267.3 L232.3,277.6 L240.5,287.9 L246.7,294.1 L252.9,297.1 L255.9,296.1 L253.9,285.8 L249.8,276.6 L248.7,249.8 L246.7,243.7 L238.5,235.4 L232.3,225.1 L227.1,223.1 L222.9,218.0 L221.6,208.4 L217.4,201.6 L216.1,193.3 L211.9,192.6 L210.6,185.1 L210.6,178.2 L212.3,170.4 L216.5,156.0 L217.5,141.6 L219.5,136.4 L223.7,136.4 L226.3,138.5 L226.7,145.7 L233.9,147.3 L240.1,153.9 L243.2,160.1 L246.3,168.3 L251.4,174.1 L255.5,174.5 L259.7,179.6 L262.0,181.7 L261.3,193.3 L262.7,199.5 L269.6,191.9 L275.0,189.9 L277.1,185.1 L277.8,176.9 L283.3,176.9 L290.1,170.0 L288.5,171.4 L298.7,163.2 L299.8,151.9 L300.8,135.4 L298.7,116.9 L295.7,109.7 L286.4,95.3 L276.1,79.9 L274.1,73.7 L268.9,63.4 L267.9,60.3 L271.0,49.0 M176.7,240.6 L180.9,240.6 L187.0,244.7 L194.2,245.7 L199.4,249.8 L204.5,258.1 L209.7,266.3 L215.8,272.5 L221.0,279.7 L225.1,285.8 L229.2,286.9 L236.4,295.1 L242.6,301.3 L247.2,305.6 L249.3,309.7 L252.0,315.2 L249.9,324.8 L257.5,331.6 L260.2,339.9 L265.0,346.7 L270.0,356.0 L271.6,365.0 L270.5,380.0 L269.6,393.1 L264.1,389.7 L257.9,391.1 L253.1,384.2 L244.9,374.6 L238.0,365.0 L234.2,359.1 L228.7,346.7 L223.2,328.9 L219.1,319.3 L212.2,311.7 L209.5,301.5 L208.1,293.2 L205.4,288.4 L197.3,278.6 L190.1,266.3 L182.9,257.0 L177.8,246.7 Z M180.9,278.0 L184.0,277.6 L186.0,283.8 L182.0,283.0 Z M194.2,296.5 L197.0,296.1 L200.4,306.0 L198.0,307.4 Z M206.6,329.0 L209.0,328.0 L212.7,338.0 L210.0,339.3 Z M664.1,459.2 L660.0,454.4 L651.7,452.3 L642.8,450.3 L641.4,446.8 L633.9,437.2 L631.2,432.4 L627.7,423.5 L622.9,421.4 L616.7,416.6 L612.6,416.6 L607.8,424.2 L603.0,427.6 L603.7,436.5 L597.5,440.0 L590.0,437.2 L584.5,437.3 L581.7,433.9 L574.9,422.9 L565.3,424.3 L558.4,427.7 L554.3,427.0 L558.4,414.0 L563.2,413.3 L561.2,401.0 L557.0,390.0 L556.6,386.3 L548.6,381.7 L545.0,380.0 L537.3,376.3 L528.8,372.7 L522.7,366.6 L519.0,363.5 L514.8,369.0 L511.7,368.4 L506.8,357.4 L503.8,353.8 L509.3,350.7 L516.6,348.9 L519.0,346.5 L517.8,344.0 L509.3,346.5 L503.2,344.0 L501.3,337.9 L493.4,334.3 L497.1,328.2 L505.6,320.9 L511.1,320.9 L513.5,323.9 L520.2,325.1 L522.1,333.0 L521.5,341.6 L526.3,351.3 L532.4,359.9 L537.3,356.2 L542.2,346.5 L545.2,342.9 L554.3,336.0 L565.7,342.9 L579.5,348.6 L588.6,353.2 L604.6,360.0 L616.0,368.0 L622.9,376.9 L626.4,382.3 L626.4,389.9 L631.2,392.6 L636.0,395.4 L640.8,394.7 L644.2,398.1 L644.9,405.7 L638.0,407.7 L637.3,409.8 L640.8,417.3 L646.9,422.8 L650.4,435.8 L656.5,437.2 L657.2,442.0 L662.7,444.8 L664.1,446.8 L662.0,449.6 L664.1,452.3 M648.3,390.6 L664.1,389.9 L664.1,400.2 L658.6,399.5 L654.5,395.4 L649.0,392.6 Z M489.1,319.0 L492.5,316.6 L496.5,319.5 L493.0,321.5 Z M533.7,326.0 L537.0,325.1 L541.0,330.0 L538.0,331.2 Z M633.6,344.5 L637.0,342.4 L640.8,344.5 L637.0,346.5 Z M441.7,293.7 L432.0,303.0 L423.4,303.8 L410.6,300.1 L403.3,298.3 L399.0,301.0 L396.9,307.4 L396.0,323.0 L392.3,328.5 L389.6,340.4 L386.8,353.2 L386.0,366.0 L389.0,380.0 L393.2,391.6 L399.6,389.7 L402.4,378.8 L399.5,368.0 L402.4,353.2 L406.0,350.0 L409.0,362.0 L412.4,375.1 L417.0,382.4 L421.6,389.7 L423.4,384.3 L417.9,370.0 L415.2,364.1 L417.9,356.8 L412.4,349.5 L410.6,342.2 L413.4,336.7 L421.6,330.3 L428.0,327.6 L426.2,324.8 L417.0,328.5 L410.6,332.1 L403.3,334.0 L398.7,325.7 L399.6,316.0 L404.0,312.0 L415.0,312.0 L424.3,309.3 L430.7,307.4 L436.2,302.9 Z M466.4,288.2 L468.2,297.4 L471.9,303.8 L471.0,307.4 L469.1,316.6 L471.0,327.6 L468.2,323.9 L463.7,312.9 L462.7,302.0 L463.7,292.8 Z M436.2,340.0 L440.0,338.5 L443.5,340.0 L441.0,342.2 L437.0,342.0 Z M461.8,338.5 L465.0,334.0 L469.1,338.5 Z M450.0,360.0 L454.0,356.8 L457.3,361.0 L456.0,366.9 L451.0,365.0 Z M467.0,358.0 L471.0,354.0 L481.0,353.0 L490.0,357.0 L492.0,366.0 L487.0,363.0 L481.0,362.0 L473.0,361.0 Z" fill="none" stroke="#1094c6" stroke-width="1.2" stroke-linejoin="round" mask="url(#bm)"/>
<path d="M128.5,214.8 L200,214.5 L255,216.5 L282,218 L323,219.2 L365,219.7 L400,219.5 L430,217.5 L457,216.5 L485,214.3 L518,213.2 L573,212.9 L608,214.3 L640,216 L664.5,217" fill="none" stroke="#000" stroke-width="1.8" stroke-dasharray="8,8"/>
<rect x="128.5" y="49.5" width="536.0" height="533.0" fill="none" stroke="#262626" stroke-width="1"/>
<line x1="128.5" y1="582.5" x2="128.5" y2="577.0" stroke="#262626"/>
<line x1="128.5" y1="49.5" x2="128.5" y2="55.0" stroke="#262626"/>
<line x1="218.5" y1="582.5" x2="218.5" y2="577.0" stroke="#262626"/>
<line x1="218.5" y1="49.5" x2="218.5" y2="55.0" stroke="#262626"/>
<line x1="307.5" y1="582.5" x2="307.5" y2="577.0" stroke="#262626"/>
<line x1="307.5" y1="49.5" x2="307.5" y2="55.0" stroke="#262626"/>
<line x1="396.5" y1="582.5" x2="396.5" y2="577.0" stroke="#262626"/>
<line x1="396.5" y1="49.5" x2="396.5" y2="55.0" stroke="#262626"/>
<line x1="485.5" y1="582.5" x2="485.5" y2="577.0" stroke="#262626"/>
<line x1="485.5" y1="49.5" x2="485.5" y2="55.0" stroke="#262626"/>
<line x1="574.5" y1="582.5" x2="574.5" y2="577.0" stroke="#262626"/>
<line x1="574.5" y1="49.5" x2="574.5" y2="55.0" stroke="#262626"/>
<line x1="664.5" y1="582.5" x2="664.5" y2="577.0" stroke="#262626"/>
<line x1="664.5" y1="49.5" x2="664.5" y2="55.0" stroke="#262626"/>
<line x1="128.5" y1="582.5" x2="134.0" y2="582.5" stroke="#262626"/>
<line x1="664.5" y1="582.5" x2="659.0" y2="582.5" stroke="#262626"/>
<line x1="128.5" y1="517.5" x2="134.0" y2="517.5" stroke="#262626"/>
<line x1="664.5" y1="517.5" x2="659.0" y2="517.5" stroke="#262626"/>
<line x1="128.5" y1="450.5" x2="134.0" y2="450.5" stroke="#262626"/>
<line x1="664.5" y1="450.5" x2="659.0" y2="450.5" stroke="#262626"/>
<line x1="128.5" y1="383.5" x2="134.0" y2="383.5" stroke="#262626"/>
<line x1="664.5" y1="383.5" x2="659.0" y2="383.5" stroke="#262626"/>
<line x1="128.5" y1="316.5" x2="134.0" y2="316.5" stroke="#262626"/>
<line x1="664.5" y1="316.5" x2="659.0" y2="316.5" stroke="#262626"/>
<line x1="128.5" y1="249.5" x2="134.0" y2="249.5" stroke="#262626"/>
<line x1="664.5" y1="249.5" x2="659.0" y2="249.5" stroke="#262626"/>
<line x1="128.5" y1="182.5" x2="134.0" y2="182.5" stroke="#262626"/>
<line x1="664.5" y1="182.5" x2="659.0" y2="182.5" stroke="#262626"/>
<line x1="128.5" y1="115.5" x2="134.0" y2="115.5" stroke="#262626"/>
<line x1="664.5" y1="115.5" x2="659.0" y2="115.5" stroke="#262626"/>
<line x1="128.5" y1="49.5" x2="134.0" y2="49.5" stroke="#262626"/>
<line x1="664.5" y1="49.5" x2="659.0" y2="49.5" stroke="#262626"/>
<text transform="translate(128.90,613.00) scale(1,1.05)" text-anchor="middle" font-size="20.6" font-weight="normal" fill="#262626">90</text>
<text transform="translate(218.90,613.00) scale(1,1.05)" text-anchor="middle" font-size="20.6" font-weight="normal" fill="#262626">100</text>
<text transform="translate(307.90,613.00) scale(1,1.05)" text-anchor="middle" font-size="20.6" font-weight="normal" fill="#262626">110</text>
<text transform="translate(396.90,613.00) scale(1,1.05)" text-anchor="middle" font-size="20.6" font-weight="normal" fill="#262626">120</text>
<text transform="translate(485.90,613.00) scale(1,1.05)" text-anchor="middle" font-size="20.6" font-weight="normal" fill="#262626">130</text>
<text transform="translate(574.90,613.00) scale(1,1.05)" text-anchor="middle" font-size="20.6" font-weight="normal" fill="#262626">140</text>
<text transform="translate(664.90,613.00) scale(1,1.05)" text-anchor="middle" font-size="20.6" font-weight="normal" fill="#262626">150</text>
<text transform="translate(120.40,590.50) scale(1,1.05)" text-anchor="end" font-size="20.6" font-weight="normal" fill="#262626">-20</text>
<text transform="translate(120.40,525.50) scale(1,1.05)" text-anchor="end" font-size="20.6" font-weight="normal" fill="#262626">-15</text>
<text transform="translate(120.40,458.50) scale(1,1.05)" text-anchor="end" font-size="20.6" font-weight="normal" fill="#262626">-10</text>
<text transform="translate(120.40,391.50) scale(1,1.05)" text-anchor="end" font-size="20.6" font-weight="normal" fill="#262626">-5</text>
<text transform="translate(120.40,324.50) scale(1,1.05)" text-anchor="end" font-size="20.6" font-weight="normal" fill="#262626">0</text>
<text transform="translate(120.40,257.50) scale(1,1.05)" text-anchor="end" font-size="20.6" font-weight="normal" fill="#262626">5</text>
<text transform="translate(120.40,190.50) scale(1,1.05)" text-anchor="end" font-size="20.6" font-weight="normal" fill="#262626">10</text>
<text transform="translate(120.40,123.50) scale(1,1.05)" text-anchor="end" font-size="20.6" font-weight="normal" fill="#262626">15</text>
<text transform="translate(120.40,57.50) scale(1,1.05)" text-anchor="end" font-size="20.6" font-weight="normal" fill="#262626">20</text>
<text transform="translate(295.50,644.00) scale(1,1.0)" text-anchor="start" font-size="23" font-weight="normal" fill="#262626">Geographic Lon. (</text>
<text transform="translate(490.80,644.00) scale(1,1.0)" text-anchor="start" font-size="23" font-weight="normal" fill="#262626">)</text>
<circle cx="484.4" cy="632.2" r="3.1" fill="none" stroke="#262626" stroke-width="1"/>
<text transform="translate(77.00,414.00) rotate(-90) scale(1,1.0)" text-anchor="start" font-size="23" font-weight="normal" fill="#262626">Geographic Lat. (</text>
<text transform="translate(77.00,226.40) rotate(-90) scale(1,1.0)" text-anchor="start" font-size="23" font-weight="normal" fill="#262626">)</text>
<circle cx="65.2" cy="232.3" r="3.1" fill="none" stroke="#262626" stroke-width="1"/>
<text transform="translate(397.20,40.50) scale(1,1.05)" text-anchor="middle" font-size="22.9" font-weight="bold" fill="#000">10-Jan-2025; 00:00 UT</text>
<rect x="698.5" y="574.17" width="32.0" height="9.83" fill="#00008f" shape-rendering="crispEdges"/>
<rect x="698.5" y="565.84" width="32.0" height="8.83" fill="#00009f" shape-rendering="crispEdges"/>
<rect x="698.5" y="557.52" width="32.0" height="8.83" fill="#0000af" shape-rendering="crispEdges"/>
<rect x="698.5" y="549.19" width="32.0" height="8.83" fill="#0000bf" shape-rendering="crispEdges"/>
<rect x="698.5" y="540.86" width="32.0" height="8.83" fill="#0000cf" shape-rendering="crispEdges"/>
<rect x="698.5" y="532.53" width="32.0" height="8.83" fill="#0000df" shape-rendering="crispEdges"/>
<rect x="698.5" y="524.20" width="32.0" height="8.83" fill="#0000ef" shape-rendering="crispEdges"/>
<rect x="698.5" y="515.88" width="32.0" height="8.83" fill="#0000ff" shape-rendering="crispEdges"/>
<rect x="698.5" y="507.55" width="32.0" height="8.83" fill="#0010ff" shape-rendering="crispEdges"/>
<rect x="698.5" y="499.22" width="32.0" height="8.83" fill="#0020ff" shape-rendering="crispEdges"/>
<rect x="698.5" y="490.89" width="32.0" height="8.83" fill="#0030ff" shape-rendering="crispEdges"/>
<rect x="698.5" y="482.56" width="32.0" height="8.83" fill="#0040ff" shape-rendering="crispEdges"/>
<rect x="698.5" y="474.23" width="32.0" height="8.83" fill="#0050ff" shape-rendering="crispEdges"/>
<rect x="698.5" y="465.91" width="32.0" height="8.83" fill="#0060ff" shape-rendering="crispEdges"/>
<rect x="698.5" y="457.58" width="32.0" height="8.83" fill="#0070ff" shape-rendering="crispEdges"/>
<rect x="698.5" y="449.25" width="32.0" height="8.83" fill="#0080ff" shape-rendering="crispEdges"/>
<rect x="698.5" y="440.92" width="32.0" height="8.83" fill="#008fff" shape-rendering="crispEdges"/>
<rect x="698.5" y="432.59" width="32.0" height="8.83" fill="#009fff" shape-rendering="crispEdges"/>
<rect x="698.5" y="424.27" width="32.0" height="8.83" fill="#00afff" shape-rendering="crispEdges"/>
<rect x="698.5" y="415.94" width="32.0" height="8.83" fill="#00bfff" shape-rendering="crispEdges"/>
<rect x="698.5" y="407.61" width="32.0" height="8.83" fill="#00cfff" shape-rendering="crispEdges"/>
<rect x="698.5" y="399.28" width="32.0" height="8.83" fill="#00dfff" shape-rendering="crispEdges"/>
<rect x="698.5" y="390.95" width="32.0" height="8.83" fill="#00efff" shape-rendering="crispEdges"/>
<rect x="698.5" y="382.62" width="32.0" height="8.83" fill="#00ffff" shape-rendering="crispEdges"/>
<rect x="698.5" y="374.30" width="32.0" height="8.83" fill="#10ffef" shape-rendering="crispEdges"/>
<rect x="698.5" y="365.97" width="32.0" height="8.83" fill="#20ffdf" shape-rendering="crispEdges"/>
<rect x="698.5" y="357.64" width="32.0" height="8.83" fill="#30ffcf" shape-rendering="crispEdges"/>
<rect x="698.5" y="349.31" width="32.0" height="8.83" fill="#40ffbf" shape-rendering="crispEdges"/>
<rect x="698.5" y="340.98" width="32.0" height="8.83" fill="#50ffaf" shape-rendering="crispEdges"/>
<rect x="698.5" y="332.66" width="32.0" height="8.83" fill="#60ff9f" shape-rendering="crispEdges"/>
<rect x="698.5" y="324.33" width="32.0" height="8.83" fill="#70ff8f" shape-rendering="crispEdges"/>
<rect x="698.5" y="316.00" width="32.0" height="8.83" fill="#80ff80" shape-rendering="crispEdges"/>
<rect x="698.5" y="307.67" width="32.0" height="8.83" fill="#8fff70" shape-rendering="crispEdges"/>
<rect x="698.5" y="299.34" width="32.0" height="8.83" fill="#9fff60" shape-rendering="crispEdges"/>
<rect x="698.5" y="291.02" width="32.0" height="8.83" fill="#afff50" shape-rendering="crispEdges"/>
<rect x="698.5" y="282.69" width="32.0" height="8.83" fill="#bfff40" shape-rendering="crispEdges"/>
<rect x="698.5" y="274.36" width="32.0" height="8.83" fill="#cfff30" shape-rendering="crispEdges"/>
<rect x="698.5" y="266.03" width="32.0" height="8.83" fill="#dfff20" shape-rendering="crispEdges"/>
<rect x="698.5" y="257.70" width="32.0" height="8.83" fill="#efff10" shape-rendering="crispEdges"/>
<rect x="698.5" y="249.38" width="32.0" height="8.83" fill="#ffff00" shape-rendering="crispEdges"/>
<rect x="698.5" y="241.05" width="32.0" height="8.83" fill="#ffef00" shape-rendering="crispEdges"/>
<rect x="698.5" y="232.72" width="32.0" height="8.83" fill="#ffdf00" shape-rendering="crispEdges"/>
<rect x="698.5" y="224.39" width="32.0" height="8.83" fill="#ffcf00" shape-rendering="crispEdges"/>
<rect x="698.5" y="216.06" width="32.0" height="8.83" fill="#ffbf00" shape-rendering="crispEdges"/>
<rect x="698.5" y="207.73" width="32.0" height="8.83" fill="#ffaf00" shape-rendering="crispEdges"/>
<rect x="698.5" y="199.41" width="32.0" height="8.83" fill="#ff9f00" shape-rendering="crispEdges"/>
<rect x="698.5" y="191.08" width="32.0" height="8.83" fill="#ff8f00" shape-rendering="crispEdges"/>
<rect x="698.5" y="182.75" width="32.0" height="8.83" fill="#ff8000" shape-rendering="crispEdges"/>
<rect x="698.5" y="174.42" width="32.0" height="8.83" fill="#ff7000" shape-rendering="crispEdges"/>
<rect x="698.5" y="166.09" width="32.0" height="8.83" fill="#ff6000" shape-rendering="crispEdges"/>
<rect x="698.5" y="157.77" width="32.0" height="8.83" fill="#ff5000" shape-rendering="crispEdges"/>
<rect x="698.5" y="149.44" width="32.0" height="8.83" fill="#ff4000" shape-rendering="crispEdges"/>
<rect x="698.5" y="141.11" width="32.0" height="8.83" fill="#ff3000" shape-rendering="crispEdges"/>
<rect x="698.5" y="132.78" width="32.0" height="8.83" fill="#ff2000" shape-rendering="crispEdges"/>
<rect x="698.5" y="124.45" width="32.0" height="8.83" fill="#ff1000" shape-rendering="crispEdges"/>
<rect x="698.5" y="116.12" width="32.0" height="8.83" fill="#ff0000" shape-rendering="crispEdges"/>
<rect x="698.5" y="107.80" width="32.0" height="8.83" fill="#ef0000" shape-rendering="crispEdges"/>
<rect x="698.5" y="99.47" width="32.0" height="8.83" fill="#df0000" shape-rendering="crispEdges"/>
<rect x="698.5" y="91.14" width="32.0" height="8.83" fill="#cf0000" shape-rendering="crispEdges"/>
<rect x="698.5" y="82.81" width="32.0" height="8.83" fill="#bf0000" shape-rendering="crispEdges"/>
<rect x="698.5" y="74.48" width="32.0" height="8.83" fill="#af0000" shape-rendering="crispEdges"/>
<rect x="698.5" y="66.16" width="32.0" height="8.83" fill="#9f0000" shape-rendering="crispEdges"/>
<rect x="698.5" y="57.83" width="32.0" height="8.83" fill="#8f0000" shape-rendering="crispEdges"/>
<rect x="698.5" y="49.50" width="32.0" height="8.83" fill="#800000" shape-rendering="crispEdges"/>
<rect x="698.5" y="49.5" width="32.0" height="533" fill="none" stroke="#262626"/>
<text transform="translate(739.00,590.30) scale(1,1.0)" text-anchor="start" font-size="19.4" font-weight="normal" fill="#262626">0</text>
<line x1="730.5" y1="517.5" x2="725.0" y2="517.5" stroke="#262626"/>
<text transform="translate(739.00,525.30) scale(1,1.0)" text-anchor="start" font-size="19.4" font-weight="normal" fill="#262626">0.1</text>
<line x1="730.5" y1="450.5" x2="725.0" y2="450.5" stroke="#262626"/>
<text transform="translate(739.00,458.30) scale(1,1.0)" text-anchor="start" font-size="19.4" font-weight="normal" fill="#262626">0.2</text>
<line x1="730.5" y1="383.5" x2="725.0" y2="383.5" stroke="#262626"/>
<text transform="translate(739.00,391.30) scale(1,1.0)" text-anchor="start" font-size="19.4" font-weight="normal" fill="#262626">0.3</text>
<line x1="730.5" y1="316.5" x2="725.0" y2="316.5" stroke="#262626"/>
<text transform="translate(739.00,324.30) scale(1,1.0)" text-anchor="start" font-size="19.4" font-weight="normal" fill="#262626">0.4</text>
<line x1="730.5" y1="249.5" x2="725.0" y2="249.5" stroke="#262626"/>
<text transform="translate(739.00,257.30) scale(1,1.0)" text-anchor="start" font-size="19.4" font-weight="normal" fill="#262626">0.5</text>
<line x1="730.5" y1="182.5" x2="725.0" y2="182.5" stroke="#262626"/>
<text transform="translate(739.00,190.30) scale(1,1.0)" text-anchor="start" font-size="19.4" font-weight="normal" fill="#262626">0.6</text>
<line x1="730.5" y1="115.5" x2="725.0" y2="115.5" stroke="#262626"/>
<text transform="translate(739.00,123.30) scale(1,1.0)" text-anchor="start" font-size="19.4" font-weight="normal" fill="#262626">0.7</text>
<text transform="translate(739.00,57.30) scale(1,1.0)" text-anchor="start" font-size="19.4" font-weight="normal" fill="#262626">0.8</text>
<text transform="translate(791.00,315.00) rotate(-90) scale(1,1.0)" text-anchor="middle" font-size="19.1" font-weight="normal" fill="#262626">ROTI (TECU/min)</text>
</svg>
</body></html>
